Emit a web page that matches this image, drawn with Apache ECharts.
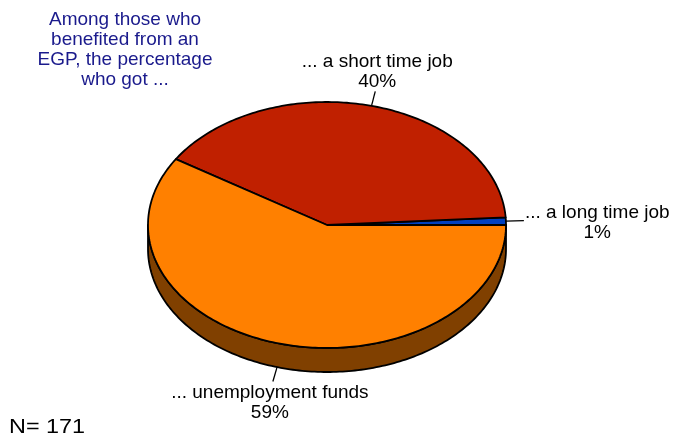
<!DOCTYPE html>
<html>
<head>
<meta charset="utf-8">
<script src="https://cdn.jsdelivr.net/npm/echarts@6/dist/echarts.min.js"></script>
<style>
  html, body { margin: 0; padding: 0; background: #fff; }
  #main { width: 673px; height: 434px; }
</style>
</head>
<body>
<div id="main"></div>
<script>
const categories = ['... a long time job', '... a short time job', '... unemployment funds'];
const shares = [1, 40, 59];
const colors = ['#0040c0', '#c02000', '#ff8000'];
const sideColors = ['#002060', '#601000', '#804000'];
const titleLines = ['Among those who', 'benefited from an', 'EGP, the percentage', 'who got ...'];
const sampleSize = 171;

// tilted pie geometry
const cx = 327, cy = 225, rx = 179, ry = 123, depth = 24;
const fontFamily = "'Liberation Sans', Arial, sans-serif";
const fontSize = 19;

const total = shares.reduce((a, b) => a + b, 0);
const starts = [];
let acc = 0;
shares.forEach(v => { starts.push(acc); acc += v; });

const measureCtx = document.createElement('canvas').getContext('2d');
measureCtx.font = fontSize + 'px ' + fontFamily;
function textWidth(lines) {
    return Math.max.apply(null, lines.map(l => measureCtx.measureText(l).width));
}

function pt(deg, dy) {
    const a = deg * Math.PI / 180;
    return [cx + rx * Math.cos(a), cy - ry * Math.sin(a) + (dy || 0)];
}
function arc(a0, a1, dy) {
    const pts = [];
    const n = Math.max(2, Math.ceil(Math.abs(a1 - a0)));
    for (let i = 0; i <= n; i++) pts.push(pt(a0 + (a1 - a0) * i / n, dy));
    return pts;
}

function renderItem(params, api) {
    const i = params.dataIndex;
    const v = api.value(0);
    const a0 = starts[i] / total * 360;
    const a1 = (starts[i] + v) / total * 360;
    const children = [];

    // visible side (front half)
    const s0 = Math.max(a0, 180), s1 = Math.min(a1, 360);
    if (s1 > s0) {
        children.push({
            type: 'polygon', z2: 1,
            shape: { points: arc(s0, s1, 0).concat(arc(s1, s0, depth)) },
            style: { fill: sideColors[i], stroke: '#000', lineWidth: 1.8, lineJoin: 'round' }
        });
    }
    // top face
    children.push({
        type: 'polygon', z2: 2,
        shape: { points: [[cx, cy]].concat(arc(a0, a1, 0)) },
        style: { fill: colors[i], stroke: '#000', lineWidth: 1.8, lineJoin: 'round' }
    });

    // leader + label
    const mid = (a0 + a1) / 2, m = mid * Math.PI / 180;
    const dx = Math.cos(m), dy = -Math.sin(m);
    const p = pt(mid, dy > 0 ? depth : 0);
    const len = Math.abs(dx) > Math.abs(dy) ? 18 : 15;
    const q = [p[0] + dx * len, p[1] + dy * len];
    children.push({
        type: 'line', z2: 3,
        shape: { x1: p[0], y1: p[1], x2: q[0], y2: q[1] },
        style: { stroke: '#000', lineWidth: 1.3 }
    });
    const lines = [categories[i], Math.round(v / total * 100) + '%'];
    let tx, ty, va;
    if (Math.abs(dx) > Math.abs(dy)) {
        const w = textWidth(lines);
        tx = dx > 0 ? q[0] + 1 + w / 2 : q[0] - 1 - w / 2;
        ty = q[1] + 2; va = 'middle';
    } else if (dy < 0) {
        tx = q[0] + 2; ty = q[1]; va = 'bottom';
    } else {
        tx = q[0] - 3; ty = q[1] + 1; va = 'top';
    }
    children.push({
        type: 'text', z2: 3, x: tx, y: ty,
        style: {
            text: lines.join('\n'), fill: '#000', align: 'center', verticalAlign: va,
            fontSize: fontSize, fontFamily: fontFamily, lineHeight: 20
        }
    });
    return { type: 'group', children: children };
}

var myChart = echarts.init(document.getElementById('main'), null, { renderer: 'canvas' });
var option = {
    animation: false,
    backgroundColor: '#fff',
    graphic: [
        {
            type: 'text', x: 125, y: 10,
            style: {
                text: titleLines.join('\n'), fill: '#1a1a8c', align: 'center', verticalAlign: 'top',
                fontSize: fontSize, fontFamily: fontFamily, lineHeight: 20
            }
        },
        {
            type: 'text', x: 9, y: 417, scaleX: 1.17,
            style: {
                text: 'N= ' + sampleSize, fill: '#000', align: 'left', verticalAlign: 'top',
                fontSize: 20, fontFamily: fontFamily
            }
        }
    ],
    series: [{
        type: 'custom',
        coordinateSystem: 'none',
        silent: true,
        renderItem: renderItem,
        data: shares.map(v => [v])
    }]
};
myChart.setOption(option);
</script>
</body>
</html>
